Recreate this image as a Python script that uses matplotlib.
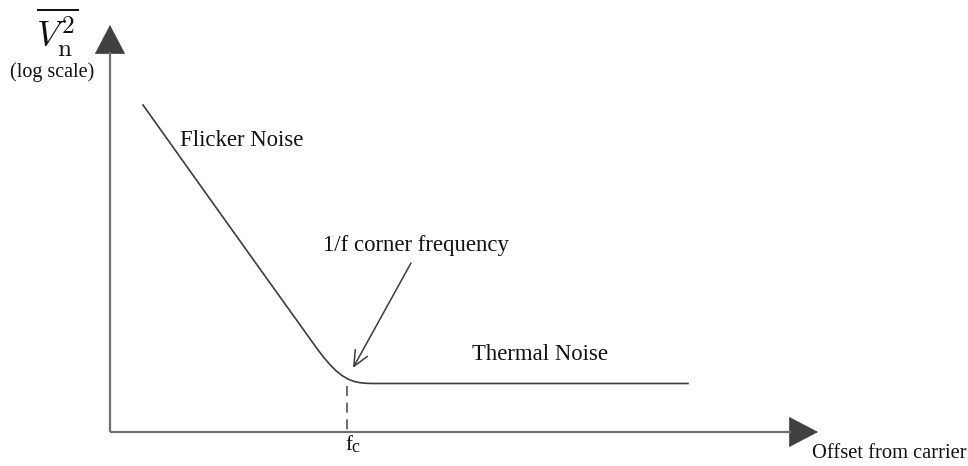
import matplotlib
matplotlib.use("Agg")
import matplotlib.pyplot as plt

plt.rcParams['font.family'] = ['Liberation Serif', 'DejaVu Serif']
plt.rcParams['mathtext.fontset'] = 'cm'

# Noise spectrum sketch (drawing units, y grows downward)
curve_x = [143, 200, 260, 312, 318, 324, 330, 336, 342, 348, 354, 360, 366, 374, 688]
curve_y = [105, 185, 269, 341.6, 349.9, 357.7, 364.7, 370.7, 375.5, 379.1,
           381.4, 382.7, 383.3, 383.5, 383.5]

corner_x = 347
origin = (110, 432)
y_axis_tip = 25
x_axis_tip = 818

labels = {
    "flicker": "Flicker Noise",
    "corner": "1/f corner frequency",
    "thermal": "Thermal Noise",
    "xlabel": "Offset from carrier",
    "ylabel": r"$\overline{V_{\rm n}^{2}}$",
    "yscale": "(log scale)",
    "fc": ("f", "c"),
}

fig = plt.figure(figsize=(9.68, 4.66), dpi=100)
ax = fig.add_axes([0, 0, 1, 1])
ax.set_xlim(0, 968)
ax.set_ylim(466, 0)
ax.axis('off')

axis_color = '#707070'
head_color = '#404040'
line_color = '#3c3c3c'

# Arrow heads on both axes
head = dict(arrowstyle='-|>,head_length=20,head_width=10.5', mutation_scale=1,
            color=head_color, shrinkA=0, shrinkB=0, lw=0.5)
ax.annotate('', xy=(origin[0], y_axis_tip), xytext=(origin[0], y_axis_tip + 40),
            arrowprops=head, zorder=2)
ax.annotate('', xy=(x_axis_tip, origin[1]), xytext=(x_axis_tip - 40, origin[1]),
            arrowprops=head, zorder=2)

# Axis shafts
ax.plot([origin[0], origin[0]], [origin[1], y_axis_tip + 27], color=axis_color,
        lw=1.6, solid_capstyle='butt', zorder=3)
ax.plot([origin[0], x_axis_tip - 27], [origin[1], origin[1]], color=axis_color,
        lw=1.6, solid_capstyle='butt', zorder=3)

# Noise curve
ax.plot(curve_x, curve_y, color=line_color, lw=1.2, zorder=4,
        solid_joinstyle='round')

# Corner frequency marker
ax.plot([corner_x, corner_x], [386, origin[1]], color='#555555', lw=1.2,
        dashes=(6, 4), zorder=3)

# Pointer to the corner
ax.annotate('', xy=(353, 368), xytext=(411, 263),
            arrowprops=dict(arrowstyle='->,head_length=11,head_width=5',
                            mutation_scale=1, color=line_color, lw=1.1,
                            shrinkA=0, shrinkB=0))

ink = '#111111'
ax.text(180, 140, labels["flicker"], ha='left', va='center', color=ink, fontsize=16.4)
ax.text(323, 245, labels["corner"], ha='left', va='center', color=ink, fontsize=16.4)
ax.text(472, 355, labels["thermal"], ha='left', va='center', color=ink, fontsize=16.4)
ax.text(812, 453, labels["xlabel"], ha='left', va='center', color=ink, fontsize=14.8)
ax.text(52, 72, labels["yscale"], ha='center', va='center', color=ink, fontsize=14.5)
ax.text(57, 32, labels["ylabel"], ha='center', va='center', color=ink, fontsize=26)
ax.text(352, 450, labels["fc"][0], ha='right', va='baseline', color=ink, fontsize=15)
ax.text(351.5, 452, labels["fc"][1], ha='left', va='baseline', color=ink, fontsize=13)

fig.savefig('out.png', dpi=100)
